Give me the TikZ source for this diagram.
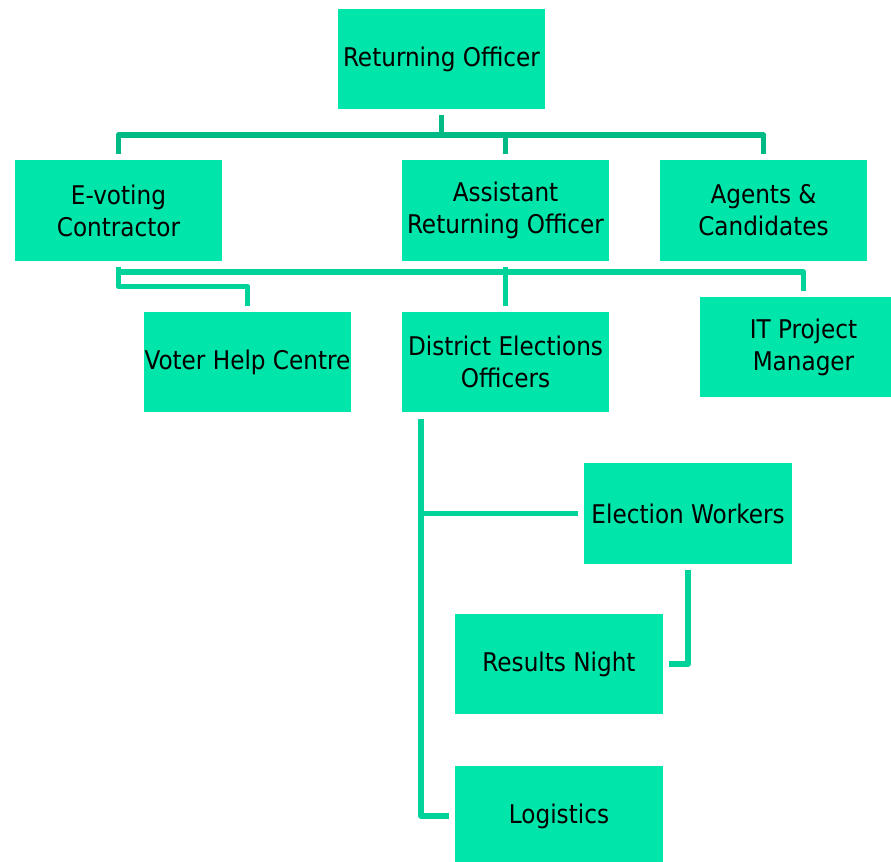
\documentclass[tikz,border=0pt]{standalone}
\usepackage{fontspec}
\setmainfont{DejaVu Sans Condensed}
\usepackage{xcolor}
\usepackage{tikz}

\definecolor{boxgreen}{HTML}{00E5A9}
\definecolor{topline}{HTML}{00BA85}
\definecolor{subline}{HTML}{00D39A}

\tikzset{
    orgbox/.style={fill=boxgreen, minimum width=5.175cm, minimum height=2.5cm,
        inner xsep=0pt, outer sep=0.15cm, align=center,
        font=\fontsize{18.3}{22.8}\selectfont},
    link/.style={line width=4pt, subline, line join=round},
}

\begin{document}
\begin{tikzpicture}[x=0.025cm, y=-0.025cm]
    \useasboundingbox (0,0) rectangle (891,861);
    \clip (0,0) rectangle (891,861);

    \node[orgbox] (ro) at (441.5,59) {Returning Officer};

    \node[orgbox] (evc) at (118.5,210.5) {E-voting\\Contractor};
    \node[orgbox] (aro) at (505.5,210.5) {Assistant\\Returning Officer};
    \node[orgbox] (agc) at (763.5,210.5) {Agents \&\\Candidates};

    \node[orgbox] (vhc) at (247.5,362) {Voter Help Centre};
    \node[orgbox] (deo) at (505.5,362) {District Elections\\Officers};
    \node[orgbox] (itpm) at (803.5,347) {IT Project\\Manager};

    \node[orgbox] (ew) at (688,513.5) {Election Workers};
    \node[orgbox] (rn) at (559,664) {Results Night};
    \node[orgbox] (log) at (559,816) {Logistics};

    % first level
    \coordinate (bustop) at (441.5,135);
    \draw[link, topline] (ro.south) -- (bustop);
    \draw[link, topline] (evc.north) |- (bustop) -| (agc.north);
    \draw[link, topline] (aro.north) -- (aro.north |- bustop);

    % second level
    \coordinate (busmid) at (505.5,272);
    \draw[link] (evc.south) |- (busmid) -| (itpm.north);
    \draw[link] (evc.south) -- ++(0,20) -| (vhc.north);
    \draw[link] (aro.south) -- (deo.north);

    % district officers
    \coordinate (trunk) at (421,419);
    \draw[link] (trunk) |- (log.west);
    \draw[link] (trunk |- ew.west) -- (ew.west);
    \draw[link] (ew.south) |- (rn.east);
\end{tikzpicture}
\end{document}
